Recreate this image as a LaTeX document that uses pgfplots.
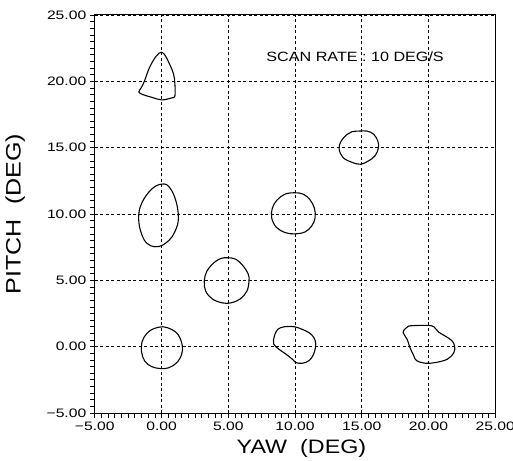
\documentclass[border=0pt]{standalone}
\usepackage{fontspec}
\setmainfont{Liberation Sans}[FakeStretch=1.2]
\newfontfamily\tickfont{Liberation Sans}[FakeStretch=1.28]
\usepackage{pgfplots}
\pgfplotsset{compat=1.18}

\begin{document}
\begin{tikzpicture}
\begin{axis}[
  scale only axis, width=400.5bp, height=398bp,
  xmin=-5, xmax=25, ymin=-5, ymax=25,
  xtick={-5,0,...,25}, ytick={-5,0,...,25},
  xticklabels={−5.00,0.00,5.00,10.00,15.00,20.00,25.00},
  yticklabels={−5.00,0.00,5.00,10.00,15.00,20.00,25.00},
  minor tick num=9, xminorticks=true, yminorticks=true,
  tick pos=left, tick align=outside,
  major tick length=5bp, minor tick length=5bp,
  every tick/.style={black, line width=0.7bp},
  axis line style={black, line width=1bp},
  grid=major,
  major grid style={black, line width=0.7bp, dash pattern=on 3bp off 2.5bp},
  ticklabel style={font=\tickfont\fontsize{12.3}{14}\selectfont},
  xlabel={YAW~~(DEG)}, ylabel={PITCH~~(DEG)},
  xlabel style={font=\fontsize{19.5}{22}\selectfont, at={(axis description cs:0.516,-0.09)}, anchor=center},
  ylabel style={font=\fontsize{21}{24}\selectfont, at={(axis description cs:-0.199,0.5)}, anchor=center},
  contour/.style={black, line width=1.1bp, no markers, smooth cycle, tension=0.6},
]
% contour at (0,20)
\addplot[contour] coordinates {(0,22.2) (0.3,21.9) (0.6,21.3) (0.9,20.55) (1.0,19.8) (1.0,18.9) (0.75,18.75) (0,18.6) (-0.75,18.8) (-1.4,19.0) (-1.7,19.2) (-1.5,19.55) (-1.25,20.1) (-0.9,21.05) (-0.4,21.9)};
% contour at (0,10)
\addplot[contour] coordinates {(0,12.25) (0.4,12.2) (0.8,11.7) (1.1,10.9) (1.25,10.05) (1.2,9.2) (0.8,8.3) (0.3,7.8) (-0.2,7.55) (-0.8,7.6) (-1.3,8.05) (-1.65,9.05) (-1.7,10.05) (-1.45,10.9) (-0.95,11.65) (-0.45,12.1)};
% contour at (5,5)
\addplot[contour] coordinates {(4.92,6.7) (5.55,6.6) (6.1,6.1) (6.5,5.45) (6.55,4.95) (6.4,4.2) (5.9,3.6) (5.2,3.3) (4.55,3.3) (3.8,3.6) (3.3,4.2) (3.2,4.95) (3.4,5.7) (3.95,6.35) (4.45,6.65)};
% contour at (0,0)
\addplot[contour] coordinates {(0.1,1.5) (0.75,1.3) (1.25,0.9) (1.55,0.1) (1.5,-0.6) (1.1,-1.25) (0.5,-1.6) (-0.1,-1.65) (-0.75,-1.5) (-1.25,-1.1) (-1.5,-0.4) (-1.45,0.4) (-1.1,1.0) (-0.6,1.35)};
% contour at (10,10)
\addplot[contour] coordinates {(10,11.6) (10.6,11.5) (11.1,11.1) (11.45,10.45) (11.5,9.7) (11.25,9.1) (10.75,8.65) (10,8.5) (9.25,8.6) (8.6,9.0) (8.25,9.7) (8.3,10.45) (8.65,11.05) (9.25,11.5)};
% contour at (15,15)
\addplot[contour] coordinates {(14.75,16.25) (15.4,16.25) (15.9,16.0) (16.2,15.5) (16.25,15.0) (16.0,14.4) (15.5,14.0) (14.9,13.75) (14.25,13.9) (13.6,14.25) (13.3,14.9) (13.45,15.5) (13.9,16.0) (14.25,16.2)};
% contour at (10,0)
\addplot[contour] coordinates {(8.7,1.3) (9.2,1.5) (9.95,1.5) (10.55,1.3) (11.05,1.05) (11.4,0.7) (11.55,0.2) (11.4,-0.55) (11.05,-1.05) (10.55,-1.25) (10.05,-1.2) (9.8,-0.95) (9.3,-0.55) (8.8,-0.2) (8.4,0.2) (8.45,0.8)};
% contour at (20,0)
\addplot[contour] coordinates {(18.5,1.55) (19.25,1.6) (20,1.6) (20.4,1.5) (20.75,1.1) (21.25,0.8) (21.75,0.45) (21.95,0.05) (21.9,-0.45) (21.4,-0.95) (20.5,-1.2) (19.75,-1.25) (19.1,-1.05) (18.9,-0.7) (18.6,-0.05) (18.4,0.55) (18.1,1.05) (18.25,1.35)};
\node[font=\fontsize{13.5}{15}\selectfont] at (axis cs:14.5,21.85) {SCAN RATE : 10 DEG/S};
\end{axis}
\pgfresetboundingbox
\path ([shift={(-94.8bp,-48bp)}]current axis.south west) rectangle ++(513bp,461bp);
\end{tikzpicture}
\end{document}
